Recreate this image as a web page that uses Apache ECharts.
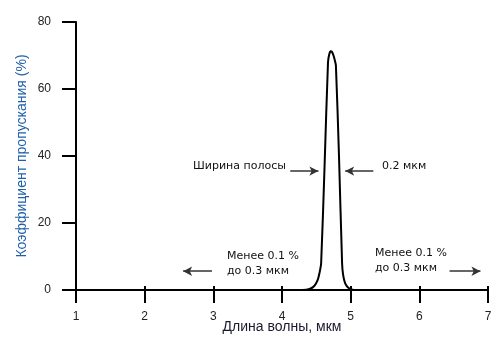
<!DOCTYPE html>
<html>
<head>
<meta charset="utf-8">
<script src="https://cdn.jsdelivr.net/npm/echarts@6/dist/echarts.min.js"></script>
<style>html,body{margin:0;padding:0;background:#fff}#c{width:501px;height:338px}</style>
</head>
<body>
<div id="c"></div>
<script>
// Data
const wavelength = [1, 4.3, 4.4, 4.47, 4.52, 4.55, 4.57, 4.62, 4.67, 4.69, 4.71, 4.73, 4.75, 4.77, 4.785, 4.83, 4.875, 4.89, 4.92, 4.97, 5.05, 7];
const transmission = [0, 0, 0.3, 1.2, 3, 5.5, 8, 37, 68, 70.5, 71.3, 71, 70, 68.5, 67, 40, 8, 4.5, 2, 0.6, 0, 0];
const xTicks = [1, 2, 3, 4, 5, 6, 7];
const yTicks = [0, 20, 40, 60, 80];
const xName = 'Длина волны, мкм';
const yName = 'Коэффициент пропускания (%)';
// annotation arrows: [x from, x to, y level]
const arrows = [[4.12, 4.53, 35.5], [5.33, 4.92, 35.5], [2.98, 2.56, 5.6], [6.44, 6.89, 5.6]];
const notes = ['Ширина полосы', '0.2 мкм', 'Менее 0.1 %\nдо 0.3 мкм'];

const chart = echarts.init(document.getElementById('c'), null, {renderer: 'canvas'});
const font = 'DejaVu Sans';
const axisFont = 'Liberation Sans';
chart.setOption({
  animation: false,
  grid: {left: 76, right: 13, top: 22, bottom: 48, containLabel: false, outerBoundsMode: 'none'},
  xAxis: [{
    type: 'value', min: xTicks[0], max: xTicks[xTicks.length - 1], interval: 1,
    name: xName, nameLocation: 'middle', nameGap: 30, nameMoveOverlap: false,
    nameTextStyle: {fontFamily: axisFont, fontSize: 14, color: '#1a1a2e'},
    axisLine: {show: true, onZero: false, lineStyle: {color: '#000', width: 2}},
    axisTick: {show: true, length: 13, lineStyle: {color: '#000', width: 2}},
    axisLabel: {margin: 21, fontFamily: axisFont, fontSize: 12, color: '#222'},
    splitLine: {show: false}
  }, {
    type: 'value', min: xTicks[0], max: xTicks[xTicks.length - 1], interval: 1,
    position: 'bottom',
    axisLine: {show: false},
    axisTick: {show: true, inside: true, length: 4, lineStyle: {color: '#000', width: 2}},
    axisLabel: {show: false}, splitLine: {show: false}
  }],
  yAxis: {
    type: 'value', min: yTicks[0], max: yTicks[yTicks.length - 1], interval: 20,
    name: yName, nameLocation: 'middle', nameGap: 47, nameMoveOverlap: false,
    nameTextStyle: {fontFamily: axisFont, fontSize: 14, color: '#1f5fad'},
    axisLine: {show: true, lineStyle: {color: '#000', width: 2}},
    axisTick: {show: true, length: 14, lineStyle: {color: '#000', width: 2}},
    axisLabel: {margin: 25, fontFamily: axisFont, fontSize: 12, color: '#222', padding: [0, 0, 8, 0]},
    splitLine: {show: false}
  },
  series: [{
    type: 'line',
    data: wavelength.map((x, i) => [x, transmission[i]]),
    showSymbol: false, smooth: 0.25,
    lineStyle: {color: '#000', width: 2},
    z: 5,
    markLine: {
      silent: true, symbol: ['none', 'arrow'], symbolSize: [7, 9],
      lineStyle: {color: '#333', width: 1.5, type: 'solid'},
      label: {show: false},
      data: arrows.map(a => [{coord: [a[0], a[2]]}, {coord: [a[1], a[2]]}])
    }
  }],
  graphic: [
    {type: 'text', left: 193, top: 161, style: {text: notes[0], font: '11px ' + font, fill: '#111'}},
    {type: 'text', left: 382, top: 161, style: {text: notes[1], font: '11px ' + font, fill: '#111'}},
    {type: 'text', left: 227, top: 249, style: {text: notes[2], font: '11px ' + font, fill: '#111', lineHeight: 15}},
    {type: 'text', left: 375, top: 246, style: {text: notes[2], font: '11px ' + font, fill: '#111', lineHeight: 15}}
  ]
});
</script>
</body>
</html>
